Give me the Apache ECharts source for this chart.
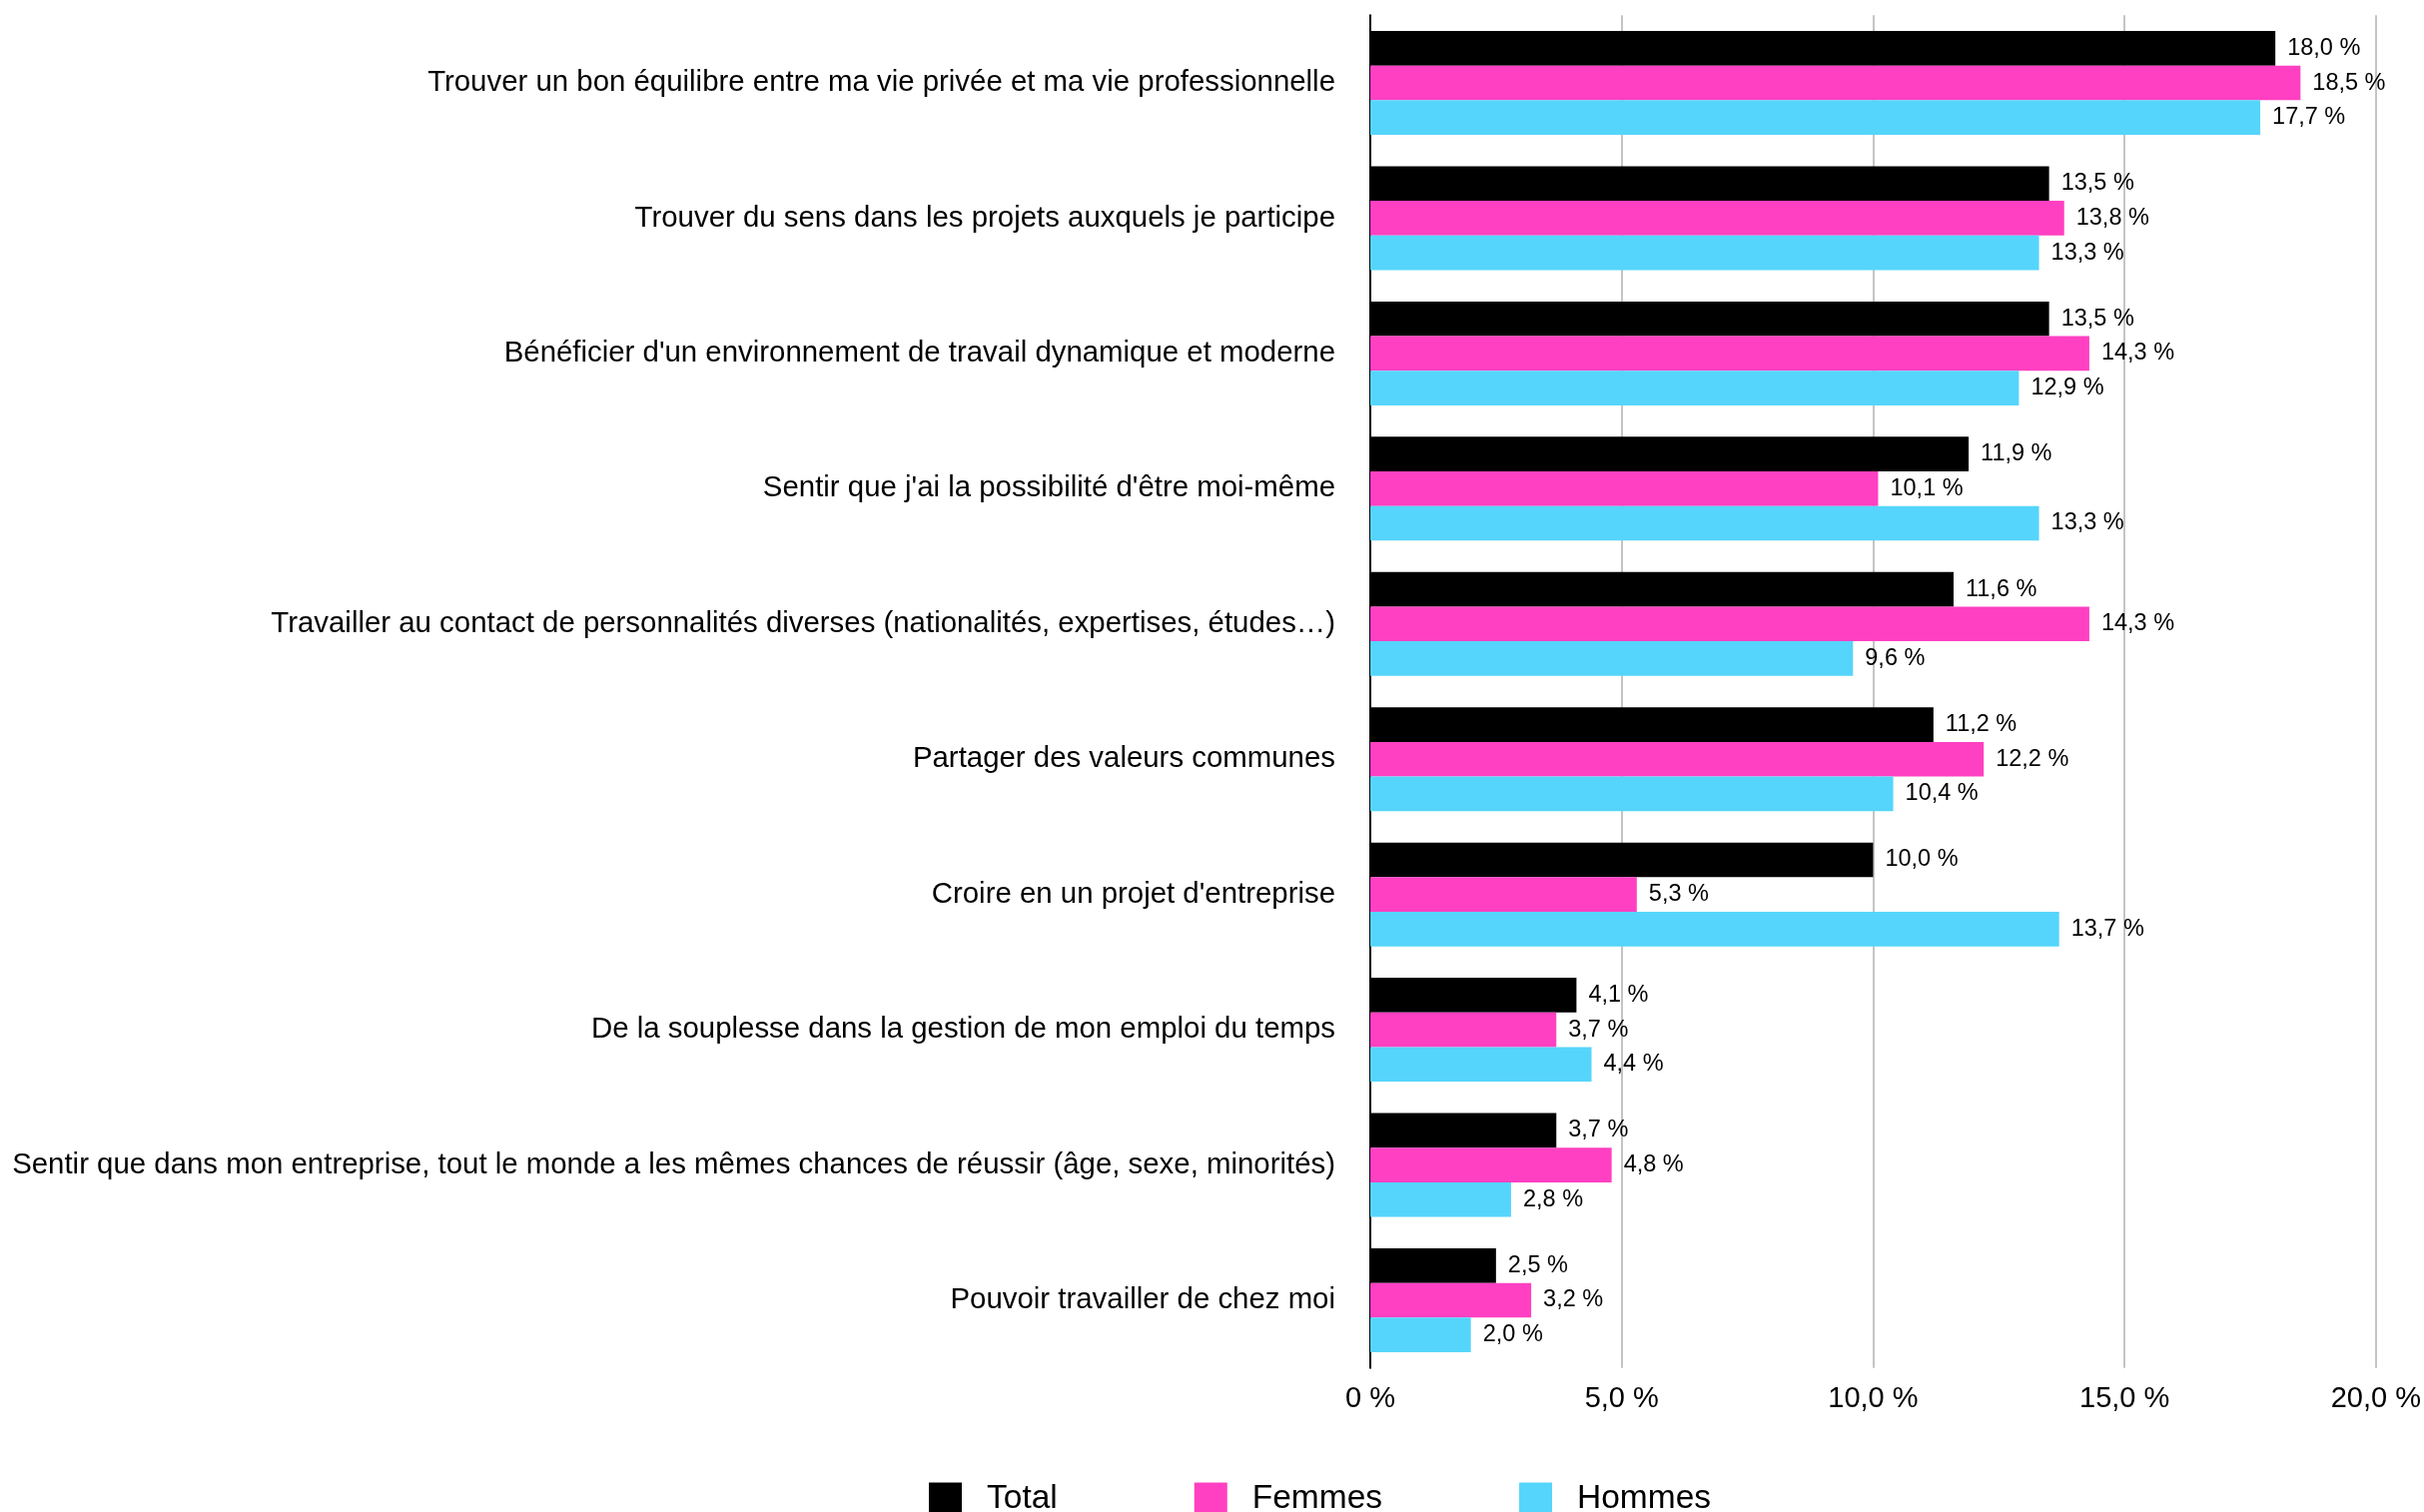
<!DOCTYPE html>
<html><head><meta charset="utf-8">
<script src="https://cdn.jsdelivr.net/npm/echarts@6/dist/echarts.min.js"></script>
<style>html,body{margin:0;padding:0;background:#fff}#c{width:2427px;height:1514px}</style>
</head><body><div id="c"></div>
<script>
const categories = [
  "Trouver un bon équilibre entre ma vie privée et ma vie professionnelle",
  "Trouver du sens dans les projets auxquels je participe",
  "Bénéficier d'un environnement de travail dynamique et moderne",
  "Sentir que j'ai la possibilité d'être moi-même",
  "Travailler au contact de personnalités diverses (nationalités, expertises, études…)",
  "Partager des valeurs communes",
  "Croire en un projet d'entreprise",
  "De la souplesse dans la gestion de mon emploi du temps",
  "Sentir que dans mon entreprise, tout le monde a les mêmes chances de réussir (âge, sexe, minorités)",
  "Pouvoir travailler de chez moi"
];
const total   = [18.0, 13.5, 13.5, 11.9, 11.6, 11.2, 10.0, 4.1, 3.7, 2.5];
const femmes  = [18.5, 13.8, 14.3, 10.1, 14.3, 12.2, 5.3, 3.7, 4.8, 3.2];
const hommes  = [17.7, 13.3, 12.9, 13.3, 9.6, 10.4, 13.7, 4.4, 2.8, 2.0];
const seriesNames = ["Total", "Femmes", "Hommes"];
const colors = ["#000000", "#FF40C2", "#55D5FB"];

const FONT = "'Liberation Sans', Arial, Helvetica, sans-serif";
const fmt = v => v === 0 ? "0 %" : v.toFixed(1).replace('.', ',') + " %";

const mk = (name, data, color) => ({
  name, type: 'bar', data,
  itemStyle: { color },
  barGap: '0%', barCategoryGap: '23.2%',
  label: { show: true, position: 'right', distance: 12, color: '#000',
           fontFamily: FONT, fontSize: 23.5, padding: [4, 0, 0, 0],
           formatter: p => fmt(p.value) }
});

const chart = echarts.init(document.getElementById('c'));
chart.setOption({
  animation: false,
  backgroundColor: '#fff',
  textStyle: { fontFamily: FONT },
  grid: { left: 1372, right: 46, top: 15.3, bottom: 144.3, containLabel: false },
  legend: {
    data: seriesNames, left: 925, top: 1479, icon: 'rect',
    itemWidth: 33, itemHeight: 33, itemGap: 137,
    textStyle: { fontFamily: FONT, fontSize: 33.5, color: '#000', padding: [2, 0, 0, 20] }
  },
  xAxis: {
    type: 'value', min: 0, max: 20, interval: 5,
    axisLine: { show: false }, axisTick: { show: false },
    splitLine: { show: true, lineStyle: { color: '#C4C4C4', width: 2 } },
    axisLabel: { fontFamily: FONT, fontSize: 29, color: '#000', margin: 17, formatter: fmt }
  },
  yAxis: {
    type: 'category', data: categories, inverse: true,
    axisLine: { show: true, lineStyle: { color: '#000', width: 2 } },
    axisTick: { show: false },
    axisLabel: { fontFamily: FONT, fontSize: 29.4, color: '#000', margin: 35, padding: [6, 0, 0, 0] }
  },
  series: [
    mk(seriesNames[0], total, colors[0]),
    mk(seriesNames[1], femmes, colors[1]),
    mk(seriesNames[2], hommes, colors[2])
  ]
});
</script></body></html>
